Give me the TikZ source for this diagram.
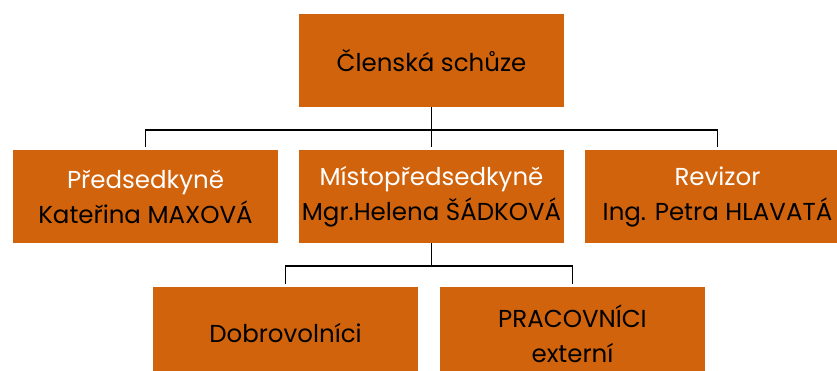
\documentclass[tikz,border=0pt]{standalone}
\usepackage{fontspec}
\setmainfont{Poppins}
\usetikzlibrary{calc}
\definecolor{oranzova}{RGB}{209,99,12}

\begin{document}
\begin{tikzpicture}[x=1pt, y=1pt]
	\tikzstyle{box} = [fill=oranzova, rectangle, minimum width=265pt, minimum height=93pt, inner sep=0pt, align=center, font=\fontsize{24.5}{35}\selectfont]
	\tikzstyle{spoj} = [line width=1.8pt, black, shorten >=3pt]
	\useasboundingbox (0,0) rectangle (837,370);

	\node[box] 	at (431.5, 309.5) 	(clen) 	{Členská schůze};
	\node[box]	at (145.5, 173.5)	(pred)	{\textcolor{white}{Předsedkyně}\\Kateřina MAXOVÁ};
	\node[box] 	at (431.5, 173.5)	(mist)	{\textcolor{white}{Místopředsedkyně}\\Mgr.Helena ŠÁDKOVÁ};
	\node[box] 	at (717.5, 173.5) 	(rev) 	{\textcolor{white}{Revizor}\\Ing. Petra HLAVATÁ};
	\node[box] 	at (285.5, 36.5) 	(dobr) 	{Dobrovolníci};
	\node[box] 	at (572.5, 36.5) 	(prac) 	{PRACOVNÍCI\\externí};

	\draw[spoj] (clen.south) -- ++(0,-23) -| (pred.north);
	\draw[spoj] (clen.south) -- ++(0,-23) -| (rev.north);
	\draw[spoj] (clen.south) -- (mist.north);
	\draw[spoj] (mist.south) -- ++(0,-23) -| (dobr.north);
	\draw[spoj] (mist.south) -- ++(0,-23) -| (prac.north);
\end{tikzpicture}
\end{document}
